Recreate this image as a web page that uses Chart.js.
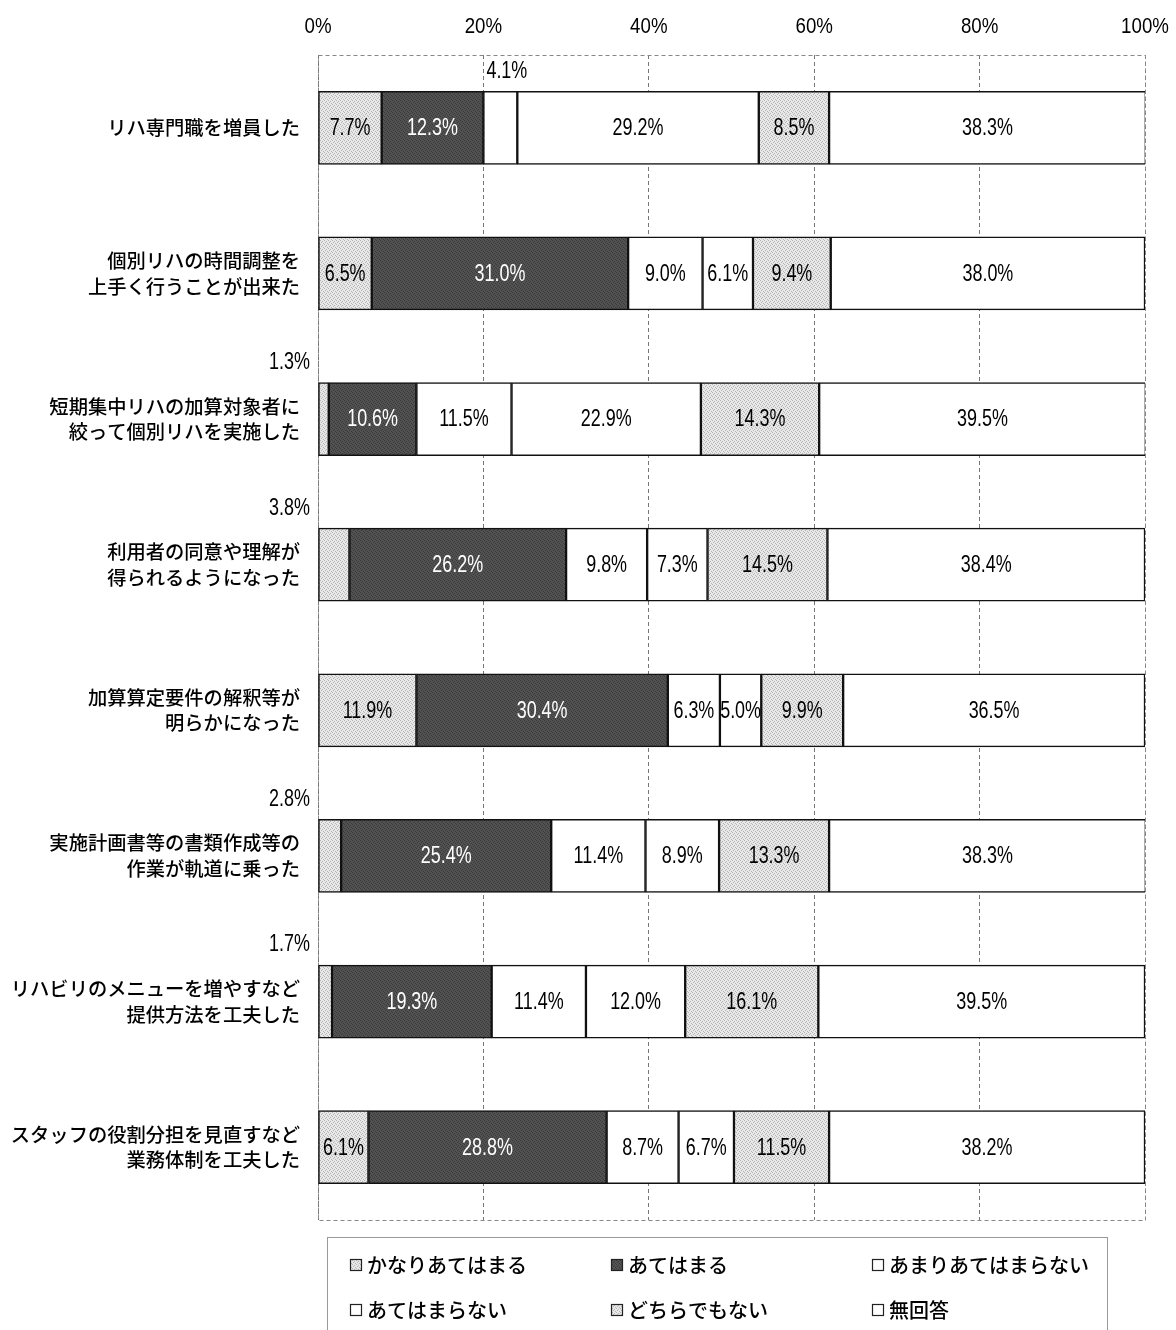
<!DOCTYPE html>
<html lang="ja">
<head>
<meta charset="utf-8">
<title>リハビリ実施状況</title>
<script src="https://cdn.jsdelivr.net/npm/chart.js@4.4.1/dist/chart.umd.min.js"></script>
<style>
    html, body { margin: 0; padding: 0; background: #fff; }
    #wrap { position: relative; width: 1176px; height: 1330px; }
</style>
</head>
<body>
<div id="wrap"><canvas id="rehaChart"></canvas></div>
<script>
"use strict";

var categories = [
    ["リハ専門職を増員した"],
    ["個別リハの時間調整を", "上手く行うことが出来た"],
    ["短期集中リハの加算対象者に", "絞って個別リハを実施した"],
    ["利用者の同意や理解が", "得られるようになった"],
    ["加算算定要件の解釈等が", "明らかになった"],
    ["実施計画書等の書類作成等の", "作業が軌道に乗った"],
    ["リハビリのメニューを増やすなど", "提供方法を工夫した"],
    ["スタッフの役割分担を見直すなど", "業務体制を工夫した"]
];
var seriesNames = ["かなりあてはまる", "あてはまる", "あまりあてはまらない", "あてはまらない", "どちらでもない", "無回答"];

var kanari = [7.7, 6.5, 1.3, 3.8, 11.9, 2.8, 1.7, 6.1];
var atehamaru = [12.3, 31.0, 10.6, 26.2, 30.4, 25.4, 19.3, 28.8];
var amari = [4.1, 9.0, 11.5, 9.8, 6.3, 11.4, 11.4, 8.7];
var atehamaranai = [29.2, 6.1, 22.9, 7.3, 5.0, 8.9, 12.0, 6.7];
var dochira = [8.5, 9.4, 14.3, 14.5, 9.9, 13.3, 16.1, 11.5];
var mukaitou = [38.3, 38.0, 39.5, 38.4, 36.5, 38.3, 39.5, 38.2];

var tickLabels = ["0%", "20%", "40%", "60%", "80%", "100%"];

var jpFont = "'Noto Sans CJK JP', 'Noto Sans', sans-serif";
var numFont = "'Liberation Sans', Arial, sans-serif";

// small dotted fills, like a printed screen tone
function stipple(base, dot) {
    var c = document.createElement("canvas");
    c.width = 4;
    c.height = 4;
    var g = c.getContext("2d");
    g.fillStyle = base;
    g.fillRect(0, 0, 4, 4);
    g.fillStyle = dot;
    g.fillRect(0, 0, 1, 1);
    g.fillRect(2, 1, 1, 1);
    g.fillRect(1, 2, 1, 1);
    g.fillRect(3, 3, 1, 1);
    return g.createPattern(c, "repeat");
}

// the numbers are set in a condensed face, so squeeze them sideways
function narrowText(ctx, text, x, y, align, squeeze) {
    ctx.save();
    ctx.translate(x, y);
    ctx.scale(squeeze, 1);
    ctx.textAlign = align;
    ctx.fillText(text, 0, 0);
    ctx.restore();
}

var lightTone = stipple("#e8e8e8", "#b4b4b4");
var darkTone = stipple("#525252", "#393939");
var fills = [lightTone, darkTone, "#ffffff", "#ffffff", lightTone, "#ffffff"];
var seriesData = [kanari, atehamaru, amari, atehamaranai, dochira, mukaitou];

var datasets = seriesData.map(function (vals, i) {
    return {
        label: seriesNames[i],
        data: vals,
        backgroundColor: fills[i],
        borderColor: "#111",
        borderWidth: 1.5,
        borderSkipped: false,
        barThickness: 73
    };
});

// dashed frame round the plot area, percent labels along the top
var plotFrame = {
    id: "plotFrame",
    beforeDatasetsDraw: function (chart) {
        var a = chart.chartArea;
        var ctx = chart.ctx;
        var xs = chart.scales.x;
        ctx.save();
        ctx.strokeStyle = "#888";
        ctx.lineWidth = 1;
        ctx.setLineDash([4, 3]);
        ctx.strokeRect(a.left + 0.5, a.top + 0.5, a.right - a.left, a.bottom - a.top);
        ctx.setLineDash([]);
        ctx.fillStyle = "#000";
        ctx.font = "22px " + numFont;
        ctx.textBaseline = "middle";
        xs.ticks.forEach(function (t, i) {
            narrowText(ctx, tickLabels[i], xs.getPixelForTick(i), a.top - 28, "center", 0.85);
        });
        ctx.restore();
    }
};

// percentages on the segments; thin ones go above the bar
var valueLabels = {
    id: "valueLabels",
    afterDatasetsDraw: function (chart) {
        var ctx = chart.ctx;
        ctx.save();
        ctx.font = "23px " + numFont;
        ctx.textBaseline = "middle";
        chart.data.datasets.forEach(function (ds, di) {
            var meta = chart.getDatasetMeta(di);
            meta.data.forEach(function (bar, i) {
                var v = ds.data[i];
                var p = bar.getProps(["x", "y", "base", "height"], true);
                var text = v.toFixed(1) + "%";
                if (v < 5) {
                    var ty = p.y - p.height / 2 - 20;
                    ctx.fillStyle = "#000";
                    if (di === 0) {
                        narrowText(ctx, text, chart.chartArea.left - 8, ty, "right", 0.78);
                    } else {
                        narrowText(ctx, text, p.base + 3, ty, "left", 0.78);
                    }
                } else {
                    ctx.fillStyle = di === 1 ? "#fff" : "#000";
                    narrowText(ctx, text, (p.x + p.base) / 2, p.y + 1, "center", 0.78);
                }
            });
        });
        ctx.restore();
    }
};

// boxed legend in three columns under the plot
var boxLegend = {
    id: "boxLegend",
    afterDraw: function (chart) {
        var ctx = chart.ctx;
        var cols = [350, 611, 872];
        var rows = [1265, 1310];
        ctx.save();
        ctx.strokeStyle = "#999";
        ctx.lineWidth = 1;
        ctx.strokeRect(327.5, 1237.5, 780, 110);
        ctx.font = "500 20px " + jpFont;
        ctx.textBaseline = "middle";
        ctx.textAlign = "left";
        chart.data.datasets.forEach(function (ds, i) {
            var x = cols[i % 3];
            var y = rows[Math.floor(i / 3)];
            ctx.fillStyle = ds.backgroundColor;
            ctx.fillRect(x, y - 6, 12, 12);
            ctx.strokeStyle = "#222";
            ctx.lineWidth = 1.2;
            ctx.strokeRect(x + 0.5, y - 5.5, 11, 11);
            ctx.fillStyle = "#000";
            ctx.fillText(ds.label, x + 17, y);
        });
        ctx.restore();
    }
};

var ctx1 = document.getElementById("rehaChart").getContext("2d");
var rehaChart = new Chart(ctx1, {
    type: "bar",
    data: {
        labels: categories,
        datasets: datasets
    },
    options: {
        indexAxis: "y",
        responsive: true,
        maintainAspectRatio: false,
        animation: false,
        layout: {
            padding: { top: 14, right: 31, bottom: 110, left: 0 }
        },
        plugins: {
            legend: { display: false },
            tooltip: { enabled: false }
        },
        scales: {
            x: {
                position: "top",
                stacked: true,
                min: 0,
                max: 100,
                border: { display: false, dash: [4, 3] },
                grid: {
                    color: "#777",
                    lineWidth: 1,
                    drawTicks: false
                },
                afterFit: function (scale) {
                    scale.height = 41;
                },
                ticks: {
                    stepSize: 20,
                    display: false
                }
            },
            y: {
                stacked: true,
                border: { display: false },
                grid: { display: false },
                afterFit: function (scale) {
                    scale.width = 318;
                },
                ticks: {
                    autoSkip: false,
                    padding: 10,
                    color: "#000",
                    font: { family: jpFont, size: 19.3, weight: "500", lineHeight: 1.33 }
                }
            }
        }
    },
    plugins: [plotFrame, valueLabels, boxLegend]
});
</script>
</body>
</html>
